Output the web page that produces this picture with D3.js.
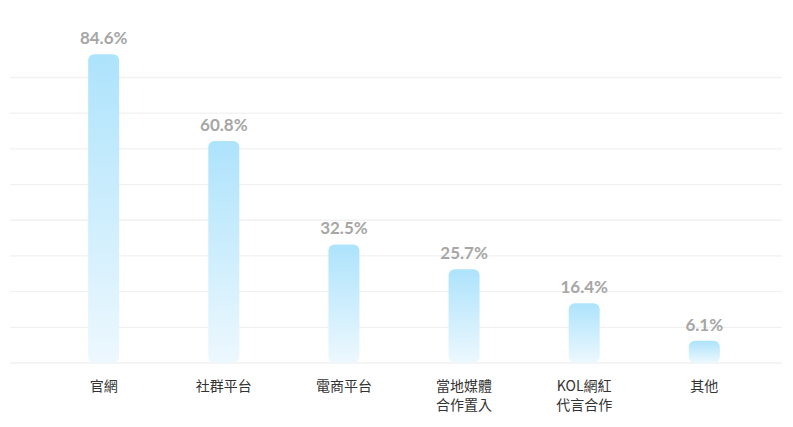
<!DOCTYPE html>
<html><head><meta charset="utf-8">
<script src="https://cdn.jsdelivr.net/npm/d3@7"></script>
<style>body{margin:0;background:#fff}</style></head>
<body><svg id="c" width="793" height="427"></svg>
<script>
const categories = [["官網"],["社群平台"],["電商平台"],["當地媒體","合作置入"],["KOL網紅","代言合作"],["其他"]];
const values = [84.6, 60.8, 32.5, 25.7, 16.4, 6.1];
const gridTicks = [0,10,20,30,40,50,60,70,80];

const svg = d3.select("#c");
const base = 363;
const x = d3.scaleBand().domain(d3.range(values.length)).range([40, 768]).paddingInner(0.74).paddingOuter(0.4);
const y = d3.scaleLinear().domain([0, 100]).range([base, base - 365]);
const g = d3.scaleLinear().domain([0, 80]).range([base, 77.5]);

const defs = svg.append("defs");
const grad = defs.append("linearGradient").attr("id","bg").attr("x1",0).attr("y1",0).attr("x2",0).attr("y2",1);
grad.append("stop").attr("offset","0%").attr("stop-color","#ade3fc");
grad.append("stop").attr("offset","100%").attr("stop-color","#edf8fe");

svg.append("g").selectAll("line").data(gridTicks).join("line")
  .attr("x1",10).attr("x2",782).attr("y1",d=>g(d)).attr("y2",d=>g(d))
  .attr("stroke","#f1f1f1").attr("stroke-width",1.3);

const bw = 31;
svg.append("g").selectAll("rect").data(values).join("rect")
  .attr("x",(d,i)=>x(i)+x.bandwidth()/2-bw/2).attr("width",bw)
  .attr("y",d=>y(d)).attr("height",d=>base-y(d))
  .attr("rx",6).attr("fill","url(#bg)");

svg.append("g").selectAll("text").data(values).join("text")
  .attr("x",(d,i)=>x(i)+x.bandwidth()/2).attr("y",d=>y(d)-10)
  .attr("text-anchor","middle").attr("font-family","Lato, sans-serif")
  .attr("font-size",17).attr("font-weight","bold").attr("fill","#a6a6a6")
  .text(d=>d.toFixed(1)+"%");

const lab = svg.append("g").selectAll("text").data(categories).join("text")
  .attr("x",(d,i)=>x(i)+x.bandwidth()/2).attr("y",391)
  .attr("text-anchor","middle").attr("font-family","'Noto Sans CJK TC', sans-serif")
  .attr("font-size",14).attr("fill","#333");
lab.each(function(d){
  const t=d3.select(this), cx=t.attr("x");
  d.forEach((s,k)=>t.append("tspan").attr("x",cx).attr("dy",k?19:0).text(s));
});
</script></body></html>
